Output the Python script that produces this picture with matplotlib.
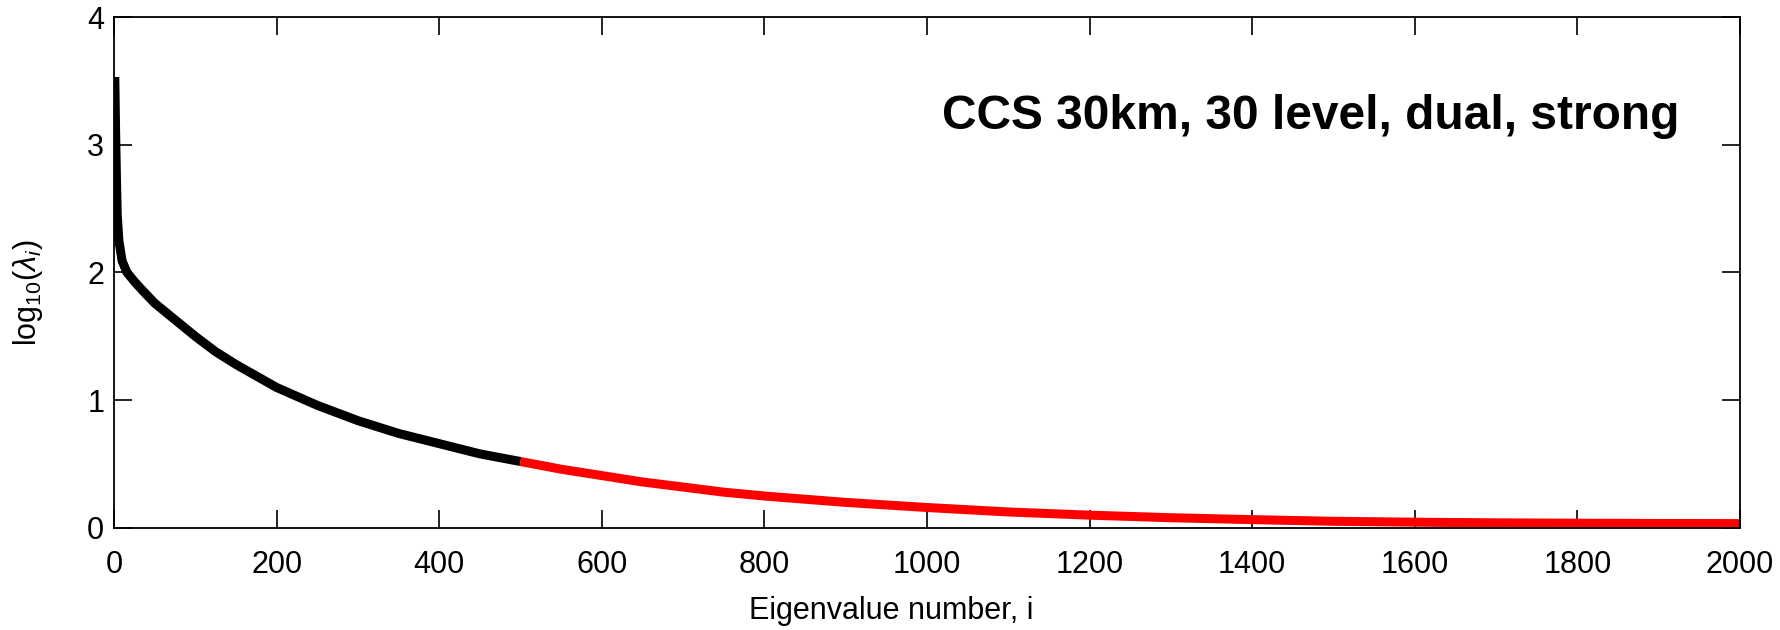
import numpy as np
import matplotlib
matplotlib.use("Agg")
import matplotlib.pyplot as plt

# eigenvalue spectrum
idx_black = [1, 2, 3, 4, 6, 10, 16, 25, 35, 50, 75, 100, 125, 150, 175, 200,
             250, 300, 350, 400, 450, 500]
val_black = [3.53, 3.1, 2.75, 2.45, 2.25, 2.09, 2.0, 1.93, 1.86, 1.76, 1.63,
             1.5, 1.38, 1.28, 1.19, 1.1, 0.96, 0.84, 0.74, 0.66, 0.58, 0.52]
idx_red = [500, 550, 600, 650, 700, 750, 800, 900, 1000, 1100, 1200, 1300,
           1400, 1500, 1600, 1700, 1800, 1900, 2000]
val_red = [0.52, 0.46, 0.41, 0.36, 0.32, 0.28, 0.25, 0.2, 0.16, 0.125, 0.1,
           0.08, 0.065, 0.052, 0.045, 0.04, 0.037, 0.035, 0.034]

title = "CCS 30km, 30 level, dual, strong"

plt.rcParams['font.family'] = ['Liberation Sans', 'DejaVu Sans']
plt.rcParams['mathtext.fontset'] = 'custom'
plt.rcParams['mathtext.rm'] = 'Liberation Sans'
plt.rcParams['mathtext.it'] = 'Liberation Sans:italic'

fig = plt.figure(figsize=(17.81, 6.3), dpi=100)
ax = fig.add_axes([0.064, 0.162, 0.913, 0.811])

ax.plot(idx_black, val_black, color='black', lw=6.5, solid_capstyle='butt')
ax.plot(idx_red, val_red, color='red', lw=6.5, solid_capstyle='butt')

ax.set_xlim(0, 2000)
ax.set_ylim(0, 4)
ax.set_xticks(np.arange(0, 2001, 200))
ax.set_yticks([0, 1, 2, 3, 4])
ax.tick_params(direction='in', length=13, width=1.2, top=True, right=True,
               labelsize=22)
ax.tick_params(axis='x', pad=16)
ax.tick_params(axis='y', pad=7)
for s in ax.spines.values():
    s.set_linewidth(1.3)

ax.set_xlabel("Eigenvalue number, i", fontsize=22, va='center')
ax.xaxis.set_label_coords(0.478, -0.163)
ax.set_ylabel(r"log$_{10}$($\lambda_i$)", fontsize=22, va='center')
ax.yaxis.set_label_coords(-0.053, 0.46)

ax.text(0.9625, 0.805, title, transform=ax.transAxes, ha='right', va='center',
        fontsize=34.5, fontweight='bold')

fig.savefig("out.png", dpi=100)
